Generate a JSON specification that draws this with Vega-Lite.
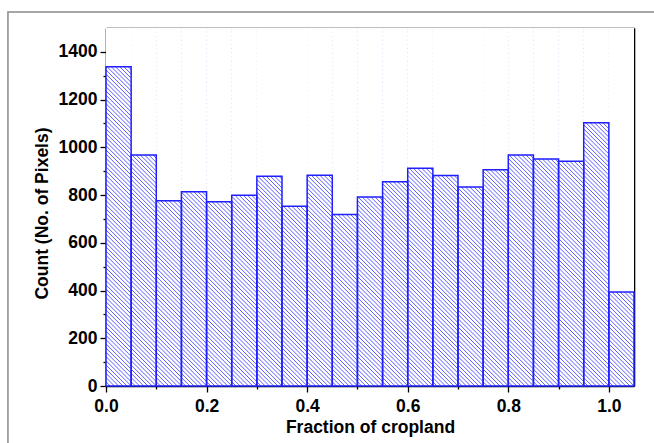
{
  "$schema": "https://vega.github.io/schema/vega-lite/v6.json",
  "width": 528,
  "height": 358,
  "autosize": {"type": "none"},
  "padding": {"left": 106, "top": 28, "right": 20, "bottom": 57},
  "background": "white",
  "config": {
    "view": {"stroke": null},
    "axis": {
      "labelFont": "Liberation Sans", "labelFontWeight": "bold", "labelFontSize": 17.5, "labelColor": "black",
      "titleFont": "Liberation Sans", "titleFontWeight": "bold", "titleFontSize": 17.5, "titleColor": "black",
      "domainColor": "black", "domainWidth": 1.6, "tickColor": "black", "tickWidth": 1.3, "grid": false, "zindex": 1
    }
  },
  "data": {"values": [
    {"x0": 0.00, "x1": 0.05, "count": 1338},
    {"x0": 0.05, "x1": 0.10, "count": 968},
    {"x0": 0.10, "x1": 0.15, "count": 776},
    {"x0": 0.15, "x1": 0.20, "count": 814},
    {"x0": 0.20, "x1": 0.25, "count": 772},
    {"x0": 0.25, "x1": 0.30, "count": 799},
    {"x0": 0.30, "x1": 0.35, "count": 879},
    {"x0": 0.35, "x1": 0.40, "count": 753},
    {"x0": 0.40, "x1": 0.45, "count": 883},
    {"x0": 0.45, "x1": 0.50, "count": 719},
    {"x0": 0.50, "x1": 0.55, "count": 792},
    {"x0": 0.55, "x1": 0.60, "count": 856},
    {"x0": 0.60, "x1": 0.65, "count": 912},
    {"x0": 0.65, "x1": 0.70, "count": 882},
    {"x0": 0.70, "x1": 0.75, "count": 834},
    {"x0": 0.75, "x1": 0.80, "count": 906},
    {"x0": 0.80, "x1": 0.85, "count": 968},
    {"x0": 0.85, "x1": 0.90, "count": 951},
    {"x0": 0.90, "x1": 0.95, "count": 942},
    {"x0": 0.95, "x1": 1.00, "count": 1103},
    {"x0": 1.00, "x1": 1.05, "count": 394}
  ]},
  "layer": [
    {
      "transform": [{"filter": "datum.x0 == 0"}],
      "mark": {"type": "rect", "fillOpacity": 0, "stroke": "#8a8a8a", "strokeWidth": 1.5},
      "encoding": {
        "x": {"datum": -0.195, "type": "quantitative", "scale": {"domain": [0, 1.05], "nice": false, "zero": false}, "axis": null},
        "x2": {"datum": 1.12},
        "y": {"datum": -300, "type": "quantitative", "scale": {"domain": [0, 1500], "nice": false, "zero": false}, "axis": null},
        "y2": {"datum": 1567}
      }
    },
    {
      "mark": {"type": "rect", "strokeWidth": 0, "fill": {"gradient": "linear", "x1": 0, "y1": 1, "x2": 0.074796, "y2": -0.06499, "stops": [
        {"offset":0,"color":"#55f"},{"offset":0.0025,"color":"#fff"},{"offset":0.0085,"color":"#fff"},
        {"offset":0.011,"color":"#55f"},{"offset":0.0135,"color":"#fff"},{"offset":0.0195,"color":"#fff"},
        {"offset":0.022,"color":"#55f"},{"offset":0.0245,"color":"#fff"},{"offset":0.0305,"color":"#fff"},
        {"offset":0.033,"color":"#55f"},{"offset":0.0355,"color":"#fff"},{"offset":0.0415,"color":"#fff"},
        {"offset":0.044,"color":"#55f"},{"offset":0.0465,"color":"#fff"},{"offset":0.0525,"color":"#fff"},
        {"offset":0.055,"color":"#55f"},{"offset":0.0575,"color":"#fff"},{"offset":0.0635,"color":"#fff"},
        {"offset":0.066,"color":"#55f"},{"offset":0.0685,"color":"#fff"},{"offset":0.0745,"color":"#fff"},
        {"offset":0.077,"color":"#55f"},{"offset":0.0795,"color":"#fff"},{"offset":0.0855,"color":"#fff"},
        {"offset":0.088,"color":"#55f"},{"offset":0.0905,"color":"#fff"},{"offset":0.0965,"color":"#fff"},
        {"offset":0.099,"color":"#55f"},{"offset":0.1015,"color":"#fff"},{"offset":0.1075,"color":"#fff"},
        {"offset":0.110,"color":"#55f"},{"offset":0.1125,"color":"#fff"},{"offset":0.1185,"color":"#fff"},
        {"offset":0.121,"color":"#55f"},{"offset":0.1235,"color":"#fff"},{"offset":0.1295,"color":"#fff"},
        {"offset":0.132,"color":"#55f"},{"offset":0.1345,"color":"#fff"},{"offset":0.1405,"color":"#fff"},
        {"offset":0.143,"color":"#55f"},{"offset":0.1455,"color":"#fff"},{"offset":0.1515,"color":"#fff"},
        {"offset":0.154,"color":"#55f"},{"offset":0.1565,"color":"#fff"},{"offset":0.1625,"color":"#fff"},
        {"offset":0.165,"color":"#55f"},{"offset":0.1675,"color":"#fff"},{"offset":0.1735,"color":"#fff"},
        {"offset":0.176,"color":"#55f"},{"offset":0.1785,"color":"#fff"},{"offset":0.1845,"color":"#fff"},
        {"offset":0.187,"color":"#55f"},{"offset":0.1895,"color":"#fff"},{"offset":0.1955,"color":"#fff"},
        {"offset":0.198,"color":"#55f"},{"offset":0.2005,"color":"#fff"},{"offset":0.2065,"color":"#fff"},
        {"offset":0.209,"color":"#55f"},{"offset":0.2115,"color":"#fff"},{"offset":0.2175,"color":"#fff"},
        {"offset":0.220,"color":"#55f"},{"offset":0.2225,"color":"#fff"},{"offset":0.2285,"color":"#fff"},
        {"offset":0.231,"color":"#55f"},{"offset":0.2335,"color":"#fff"},{"offset":0.2395,"color":"#fff"},
        {"offset":0.242,"color":"#55f"},{"offset":0.2445,"color":"#fff"},{"offset":0.2505,"color":"#fff"},
        {"offset":0.253,"color":"#55f"},{"offset":0.2555,"color":"#fff"},{"offset":0.2615,"color":"#fff"},
        {"offset":0.264,"color":"#55f"},{"offset":0.2665,"color":"#fff"},{"offset":0.2725,"color":"#fff"},
        {"offset":0.275,"color":"#55f"},{"offset":0.2775,"color":"#fff"},{"offset":0.2835,"color":"#fff"},
        {"offset":0.286,"color":"#55f"},{"offset":0.2885,"color":"#fff"},{"offset":0.2945,"color":"#fff"},
        {"offset":0.297,"color":"#55f"},{"offset":0.2995,"color":"#fff"},{"offset":0.3055,"color":"#fff"},
        {"offset":0.308,"color":"#55f"},{"offset":0.3105,"color":"#fff"},{"offset":0.3165,"color":"#fff"},
        {"offset":0.319,"color":"#55f"},{"offset":0.3215,"color":"#fff"},{"offset":0.3275,"color":"#fff"},
        {"offset":0.330,"color":"#55f"},{"offset":0.3325,"color":"#fff"},{"offset":0.3385,"color":"#fff"},
        {"offset":0.341,"color":"#55f"},{"offset":0.3435,"color":"#fff"},{"offset":0.3495,"color":"#fff"},
        {"offset":0.352,"color":"#55f"},{"offset":0.3545,"color":"#fff"},{"offset":0.3605,"color":"#fff"},
        {"offset":0.363,"color":"#55f"},{"offset":0.3655,"color":"#fff"},{"offset":0.3715,"color":"#fff"},
        {"offset":0.374,"color":"#55f"},{"offset":0.3765,"color":"#fff"},{"offset":0.3825,"color":"#fff"},
        {"offset":0.385,"color":"#55f"},{"offset":0.3875,"color":"#fff"},{"offset":0.3935,"color":"#fff"},
        {"offset":0.396,"color":"#55f"},{"offset":0.3985,"color":"#fff"},{"offset":0.4045,"color":"#fff"},
        {"offset":0.407,"color":"#55f"},{"offset":0.4095,"color":"#fff"},{"offset":0.4155,"color":"#fff"},
        {"offset":0.418,"color":"#55f"},{"offset":0.4205,"color":"#fff"},{"offset":0.4265,"color":"#fff"},
        {"offset":0.429,"color":"#55f"},{"offset":0.4315,"color":"#fff"},{"offset":0.4375,"color":"#fff"},
        {"offset":0.440,"color":"#55f"},{"offset":0.4425,"color":"#fff"},{"offset":0.4485,"color":"#fff"},
        {"offset":0.451,"color":"#55f"},{"offset":0.4535,"color":"#fff"},{"offset":0.4595,"color":"#fff"},
        {"offset":0.462,"color":"#55f"},{"offset":0.4645,"color":"#fff"},{"offset":0.4705,"color":"#fff"},
        {"offset":0.473,"color":"#55f"},{"offset":0.4755,"color":"#fff"},{"offset":0.4815,"color":"#fff"},
        {"offset":0.484,"color":"#55f"},{"offset":0.4865,"color":"#fff"},{"offset":0.4925,"color":"#fff"},
        {"offset":0.495,"color":"#55f"},{"offset":0.4975,"color":"#fff"},{"offset":0.5035,"color":"#fff"},
        {"offset":0.506,"color":"#55f"},{"offset":0.5085,"color":"#fff"},{"offset":0.5145,"color":"#fff"},
        {"offset":0.517,"color":"#55f"},{"offset":0.5195,"color":"#fff"},{"offset":0.5255,"color":"#fff"},
        {"offset":0.528,"color":"#55f"},{"offset":0.5305,"color":"#fff"},{"offset":0.5365,"color":"#fff"},
        {"offset":0.539,"color":"#55f"},{"offset":0.5415,"color":"#fff"},{"offset":0.5475,"color":"#fff"},
        {"offset":0.550,"color":"#55f"},{"offset":0.5525,"color":"#fff"},{"offset":0.5585,"color":"#fff"},
        {"offset":0.561,"color":"#55f"},{"offset":0.5635,"color":"#fff"},{"offset":0.5695,"color":"#fff"},
        {"offset":0.572,"color":"#55f"},{"offset":0.5745,"color":"#fff"},{"offset":0.5805,"color":"#fff"},
        {"offset":0.583,"color":"#55f"},{"offset":0.5855,"color":"#fff"},{"offset":0.5915,"color":"#fff"},
        {"offset":0.594,"color":"#55f"},{"offset":0.5965,"color":"#fff"},{"offset":0.6025,"color":"#fff"},
        {"offset":0.605,"color":"#55f"},{"offset":0.6075,"color":"#fff"},{"offset":0.6135,"color":"#fff"},
        {"offset":0.616,"color":"#55f"},{"offset":0.6185,"color":"#fff"},{"offset":0.6245,"color":"#fff"},
        {"offset":0.627,"color":"#55f"},{"offset":0.6295,"color":"#fff"},{"offset":0.6355,"color":"#fff"},
        {"offset":0.638,"color":"#55f"},{"offset":0.6405,"color":"#fff"},{"offset":0.6465,"color":"#fff"},
        {"offset":0.649,"color":"#55f"},{"offset":0.6515,"color":"#fff"},{"offset":0.6575,"color":"#fff"},
        {"offset":0.660,"color":"#55f"},{"offset":0.6625,"color":"#fff"},{"offset":0.6685,"color":"#fff"},
        {"offset":0.671,"color":"#55f"},{"offset":0.6735,"color":"#fff"},{"offset":0.6795,"color":"#fff"},
        {"offset":0.682,"color":"#55f"},{"offset":0.6845,"color":"#fff"},{"offset":0.6905,"color":"#fff"},
        {"offset":0.693,"color":"#55f"},{"offset":0.6955,"color":"#fff"},{"offset":0.7015,"color":"#fff"},
        {"offset":0.704,"color":"#55f"},{"offset":0.7065,"color":"#fff"},{"offset":0.7125,"color":"#fff"},
        {"offset":0.715,"color":"#55f"},{"offset":0.7175,"color":"#fff"},{"offset":0.7235,"color":"#fff"},
        {"offset":0.726,"color":"#55f"},{"offset":0.7285,"color":"#fff"},{"offset":0.7345,"color":"#fff"},
        {"offset":0.737,"color":"#55f"},{"offset":0.7395,"color":"#fff"},{"offset":0.7455,"color":"#fff"},
        {"offset":0.748,"color":"#55f"},{"offset":0.7505,"color":"#fff"},{"offset":0.7565,"color":"#fff"},
        {"offset":0.759,"color":"#55f"},{"offset":0.7615,"color":"#fff"},{"offset":0.7675,"color":"#fff"},
        {"offset":0.770,"color":"#55f"},{"offset":0.7725,"color":"#fff"},{"offset":0.7785,"color":"#fff"},
        {"offset":0.781,"color":"#55f"},{"offset":0.7835,"color":"#fff"},{"offset":0.7895,"color":"#fff"},
        {"offset":0.792,"color":"#55f"},{"offset":0.7945,"color":"#fff"},{"offset":0.8005,"color":"#fff"},
        {"offset":0.803,"color":"#55f"},{"offset":0.8055,"color":"#fff"},{"offset":0.8115,"color":"#fff"},
        {"offset":0.814,"color":"#55f"},{"offset":0.8165,"color":"#fff"},{"offset":0.8225,"color":"#fff"},
        {"offset":0.825,"color":"#55f"},{"offset":0.8275,"color":"#fff"},{"offset":0.8335,"color":"#fff"},
        {"offset":0.836,"color":"#55f"},{"offset":0.8385,"color":"#fff"},{"offset":0.8445,"color":"#fff"},
        {"offset":0.847,"color":"#55f"},{"offset":0.8495,"color":"#fff"},{"offset":0.8555,"color":"#fff"},
        {"offset":0.858,"color":"#55f"},{"offset":0.8605,"color":"#fff"},{"offset":0.8665,"color":"#fff"},
        {"offset":0.869,"color":"#55f"},{"offset":0.8715,"color":"#fff"},{"offset":0.8775,"color":"#fff"},
        {"offset":0.880,"color":"#55f"},{"offset":0.8825,"color":"#fff"},{"offset":0.8885,"color":"#fff"},
        {"offset":0.891,"color":"#55f"},{"offset":0.8935,"color":"#fff"},{"offset":0.8995,"color":"#fff"},
        {"offset":0.902,"color":"#55f"},{"offset":0.9045,"color":"#fff"},{"offset":0.9105,"color":"#fff"},
        {"offset":0.913,"color":"#55f"},{"offset":0.9155,"color":"#fff"},{"offset":0.9215,"color":"#fff"},
        {"offset":0.924,"color":"#55f"},{"offset":0.9265,"color":"#fff"},{"offset":0.9325,"color":"#fff"},
        {"offset":0.935,"color":"#55f"},{"offset":0.9375,"color":"#fff"},{"offset":0.9435,"color":"#fff"},
        {"offset":0.946,"color":"#55f"},{"offset":0.9485,"color":"#fff"},{"offset":0.9545,"color":"#fff"},
        {"offset":0.957,"color":"#55f"},{"offset":0.9595,"color":"#fff"},{"offset":0.9655,"color":"#fff"},
        {"offset":0.968,"color":"#55f"},{"offset":0.9705,"color":"#fff"},{"offset":0.9765,"color":"#fff"},
        {"offset":0.979,"color":"#55f"},{"offset":0.9815,"color":"#fff"},{"offset":0.9875,"color":"#fff"},
        {"offset":0.990,"color":"#55f"},{"offset":0.9925,"color":"#fff"},{"offset":0.9985,"color":"#fff"}
      ]}},
      "encoding": {
        "x": {"field": "x0", "type": "quantitative", "scale": {"domain": [0, 1.05], "nice": false, "zero": false},
          "axis": {"orient": "bottom", "values": [0, 0.1, 0.2, 0.3, 0.4, 0.5, 0.6, 0.7, 0.8, 0.9, 1.0], "format": ".1f",
            "labelExpr": "round(datum.value*10) % 2 ? '' : datum.label",
            "tickSize": {"condition": {"test": "round(datum.value*10) % 2 != 0", "value": 3}, "value": 6},
            "labelPadding": 5.5, "labelFlush": false, "labelOverlap": false,
            "title": "Fraction of cropland", "titlePadding": 3}},
        "x2": {"field": "x1"},
        "y": {"datum": 0, "type": "quantitative", "scale": {"domain": [0, 1500], "nice": false, "zero": false},
          "axis": {"orient": "left", "values": [0, 100, 200, 300, 400, 500, 600, 700, 800, 900, 1000, 1100, 1200, 1300, 1400], "format": "d",
            "labelExpr": "datum.value % 200 ? '' : datum.label",
            "tickSize": {"condition": {"test": "datum.value % 200 != 0", "value": 3}, "value": 6},
            "labelPadding": 3, "labelOverlap": false,
            "title": "Count (No. of Pixels)", "titlePadding": 7, "titleY": 185}},
        "y2": {"datum": 1500}
      }
    },
    {
      "mark": {"type": "rect", "fill": "white", "strokeWidth": 0},
      "encoding": {
        "x": {"field": "x0", "type": "quantitative", "scale": {"domain": [0, 1.05], "nice": false, "zero": false}, "axis": null},
        "x2": {"field": "x1"},
        "y": {"field": "count", "type": "quantitative", "scale": {"domain": [0, 1500], "nice": false, "zero": false}, "axis": null},
        "y2": {"datum": 1500}
      }
    },
    {
      "mark": {"type": "rect", "fillOpacity": 0, "stroke": "#1f1fff", "strokeWidth": 1.5},
      "encoding": {
        "x": {"field": "x0", "type": "quantitative", "scale": {"domain": [0, 1.05], "nice": false, "zero": false},
          "axis": {"orient": "top", "labels": false, "ticks": false, "title": null}},
        "x2": {"field": "x1"},
        "y": {"field": "count", "type": "quantitative", "scale": {"domain": [0, 1500], "nice": false, "zero": false},
          "axis": {"orient": "right", "labels": false, "ticks": false, "title": null}},
        "y2": {"datum": 0}
      }
    }
  ],
  "resolve": {"axis": {"x": "independent", "y": "independent"}}
}
